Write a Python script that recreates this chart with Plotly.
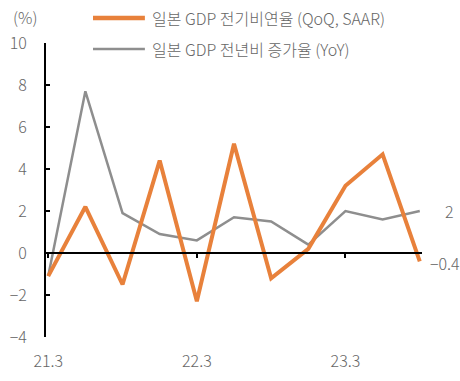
import plotly.graph_objects as go

quarters = ["21.3", "21.6", "21.9", "21.12", "22.3", "22.6", "22.9", "22.12", "23.3", "23.6", "23.9"]
qoq_saar = [-1.1, 2.2, -1.5, 4.4, -2.3, 5.2, -1.2, 0.2, 3.2, 4.7, -0.4]
yoy = [-1.1, 7.7, 1.9, 0.9, 0.6, 1.7, 1.5, 0.4, 2.0, 1.6, 2.0]
x_tick_labels = ["21.3", "22.3", "23.3"]
y_ticks = [-4, -2, 0, 2, 4, 6, 8, 10]
name_qoq = "일본 GDP 전기비연율 (QoQ, SAAR)"
name_yoy = "일본 GDP 전년비 증가율 (YoY)"

idx = list(range(len(quarters)))
tick_idx = [quarters.index(t) for t in x_tick_labels]

FONT = "Noto Sans CJK KR"
ORANGE = "#E8813B"
GREY = "#8E8E8E"
TXT = "#666666"
FS = 16

def f(size=FS):
    return dict(family=FONT, size=size, color=TXT, weight=300)

fig = go.Figure()
fig.add_trace(go.Scatter(x=idx, y=yoy, mode="lines", name=name_yoy, showlegend=False,
                         line=dict(color=GREY, width=2.5)))
fig.add_trace(go.Scatter(x=idx, y=qoq_saar, mode="lines", name=name_qoq, showlegend=False,
                         line=dict(color=ORANGE, width=4)))
# helper trace for bottom label axis
fig.add_trace(go.Scatter(x=[None], y=[None], xaxis="x2", showlegend=False, hoverinfo="skip"))

pad = 0.06
pos0 = (0 - (-4)) / 14

# custom legend (long line samples like the reference)
leg = [(name_qoq, ORANGE, 4.5, 1.085), (name_yoy, GREY, 2.5, 0.980)]
shapes = []
annotations = []
for name, col, w, yy in leg:
    shapes.append(dict(type="line", xref="paper", yref="paper", x0=0.125, x1=0.263, y0=yy, y1=yy,
                       line=dict(color=col, width=w)))
    annotations.append(dict(text=name, xref="paper", yref="paper", x=0.2766, y=yy,
                            xanchor="left", yanchor="middle", showarrow=False, font=f()))

annotations += [
    dict(text="(%)", xref="paper", yref="paper", x=-0.056, y=1.088, xanchor="center",
         yanchor="middle", showarrow=False, font=f()),
    dict(text=f"{yoy[-1]:g}", xref="paper", yref="y", x=1.074, y=yoy[-1], xanchor="center",
         yanchor="middle", showarrow=False, font=f()),
    dict(text="−" + f"{abs(qoq_saar[-1]):g}", xref="paper", yref="y", x=1.016, y=qoq_saar[-1],
         xanchor="left", yanchor="middle", yshift=-2, showarrow=False, font=f()),
]

fig.update_layout(
    width=460, height=381,
    margin=dict(l=46, r=38, t=43, b=44, autoexpand=False),
    paper_bgcolor="white", plot_bgcolor="white",
    font=f(),
    showlegend=False,
    xaxis=dict(range=[-pad, len(quarters) - 1 + pad], anchor="free", position=pos0,
               showline=True, linecolor="black", linewidth=2,
               tickvals=tick_idx, ticks="outside", ticklen=4, tickwidth=2, tickcolor="black",
               showticklabels=False, showgrid=False, zeroline=False, automargin=False),
    xaxis2=dict(range=[-pad, len(quarters) - 1 + pad], overlaying="x", anchor="y", side="bottom",
                tickvals=tick_idx, ticktext=x_tick_labels, ticks="", showline=False,
                showgrid=False, zeroline=False, ticklabelstandoff=13, automargin=False,
                tickfont=f()),
    yaxis=dict(range=[-4, 10], tickvals=y_ticks, showline=True, linecolor="black", linewidth=2,
               ticks="inside", ticklen=4, tickwidth=2, tickcolor="black",
               showgrid=False, zeroline=False, ticklabelstandoff=14, automargin=False,
               tickfont=f()),
    shapes=shapes,
    annotations=annotations,
)

fig.write_html("out.html", config={"displayModeBar": False},
               post_script="document.body.style.margin='0';document.body.style.overflow='hidden';")
